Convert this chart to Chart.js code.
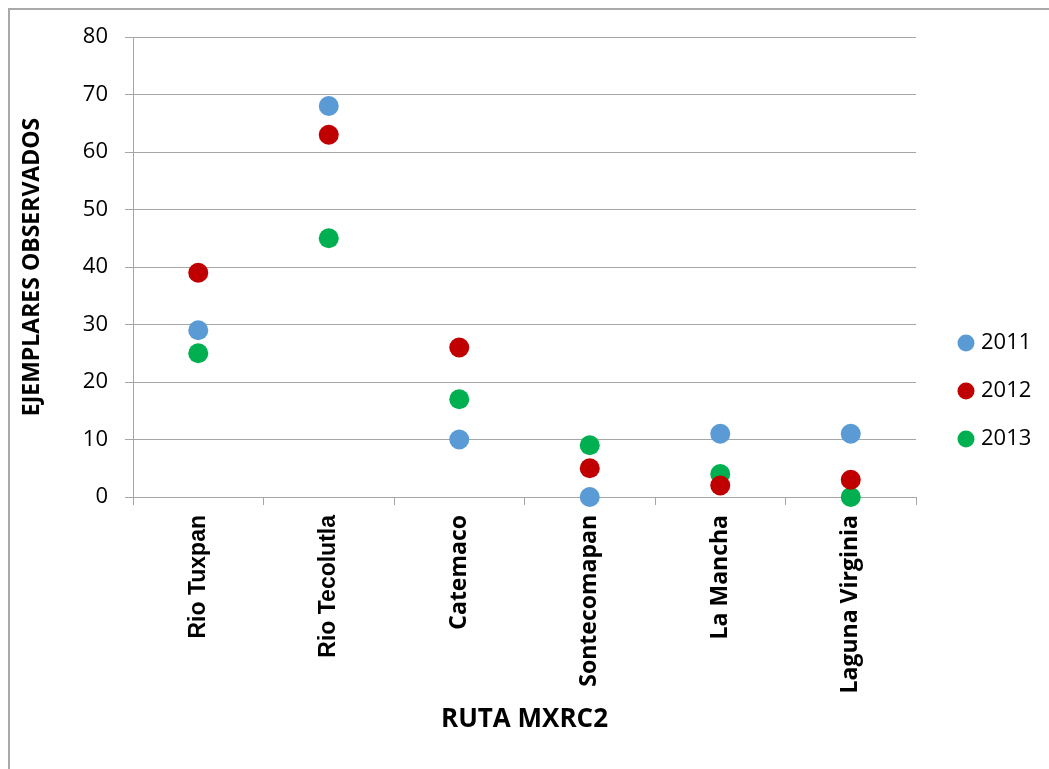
<!DOCTYPE html>
<html>
<head>
<meta charset="utf-8">
<script src="https://cdn.jsdelivr.net/npm/chart.js@4/dist/chart.umd.min.js"></script>
<style>
  html, body { margin: 0; padding: 0; background: #ffffff; }
  #frame {
    position: absolute; left: 8px; top: 8px; width: 1100px; height: 800px;
    border-left: 2px solid #a9a9a9; border-top: 2px solid #a9a9a9; box-sizing: border-box;
  }
  #wrap { position: absolute; left: 0; top: 0; width: 1049px; height: 769px; }
</style>
</head>
<body>
<div id="frame"></div>
<div id="wrap"><canvas id="chart" width="1049" height="769"></canvas></div>
<script>
// Sites along route MXRC2 and specimens counted per year
const categories = ['Rio Tuxpan', 'Rio Tecolutla', 'Catemaco', 'Sontecomapan', 'La Mancha', 'Laguna Virginia'];
const years = ['2011', '2012', '2013'];
const counts2011 = [29, 68, 10, 0, 11, 11];
const counts2012 = [39, 63, 26, 5, 2, 3];
const counts2013 = [25, 45, 17, 9, 4, 0];
const yTicks = [0, 10, 20, 30, 40, 50, 60, 70, 80];

const colors = ['#5b9bd5', '#c00000', '#00b050'];
const seriesValues = [counts2011, counts2012, counts2013];

const gridColor = '#a6a6a6';

// Moves the legend a little to the right of the plot area
const legendGap = {
  id: 'legendGap',
  afterLayout(chart) {
    const lg = chart.legend;
    if (lg) { lg.left += 20; lg.right += 20; }
  }
};

new Chart(document.getElementById('chart'), {
  type: 'line',
  data: {
    labels: categories,
    datasets: years.map((y, i) => ({
      label: y,
      data: seriesValues[i],
      showLine: false,
      backgroundColor: colors[i],
      borderColor: colors[i],
      pointBackgroundColor: colors[i],
      pointBorderWidth: 0,
      borderWidth: 0,
      pointRadius: 10,
      pointHoverRadius: 10,
      pointStyle: 'circle',
      clip: false
    }))
  },
  options: {
    responsive: false,
    animation: false,
    layout: { padding: { left: 10, top: 37, right: 33, bottom: 24 } },
    plugins: {
      tooltip: { enabled: false },
      legend: {
        position: 'right',
        maxWidth: 100,
        labels: {
          usePointStyle: true,
          boxWidth: 8,
          boxHeight: 12,
          padding: 26,
          color: '#000000',
          font: { family: 'Open Sans', size: 22 }
        }
      }
    },
    scales: {
      x: {
        type: 'category',
        offset: true,
        afterFit(scale) { scale.height = 248; },
        grid: {
          offset: true,
          drawOnChartArea: false,
          drawTicks: true,
          tickLength: 8,
          color: gridColor
        },
        border: { display: true, color: gridColor },
        ticks: {
          autoSkip: false,
          minRotation: 90,
          maxRotation: 90,
          padding: 10,
          color: '#000000',
          font: (ctx) => ({
            family: ctx.index < 2 ? 'Liberation Sans' : 'Open Sans',
            size: 23,
            weight: 'bold'
          })
        },
        title: {
          display: true,
          text: 'RUTA MXRC2',
          color: '#000000',
          font: { family: 'Open Sans', size: 26, weight: 'bold' },
          padding: { top: 0, bottom: 10 }
        }
      },
      y: {
        min: 0,
        max: 80,
        afterFit(scale) { scale.width = 123; },
        afterBuildTicks(scale) { scale.ticks = yTicks.map(v => ({ value: v })); },
        grid: {
          color: gridColor,
          drawTicks: true,
          tickLength: 8
        },
        border: { display: true, color: gridColor },
        ticks: {
          padding: 17,
          color: '#000000',
          font: { family: 'Open Sans', size: 22 }
        },
        title: {
          display: true,
          text: 'EJEMPLARES OBSERVADOS',
          color: '#000000',
          font: { family: 'Open Sans', size: 23, weight: 'bold' },
          padding: { top: 9, bottom: 0 }
        }
      }
    }
  },
  plugins: [legendGap]
});
</script>
</body>
</html>
